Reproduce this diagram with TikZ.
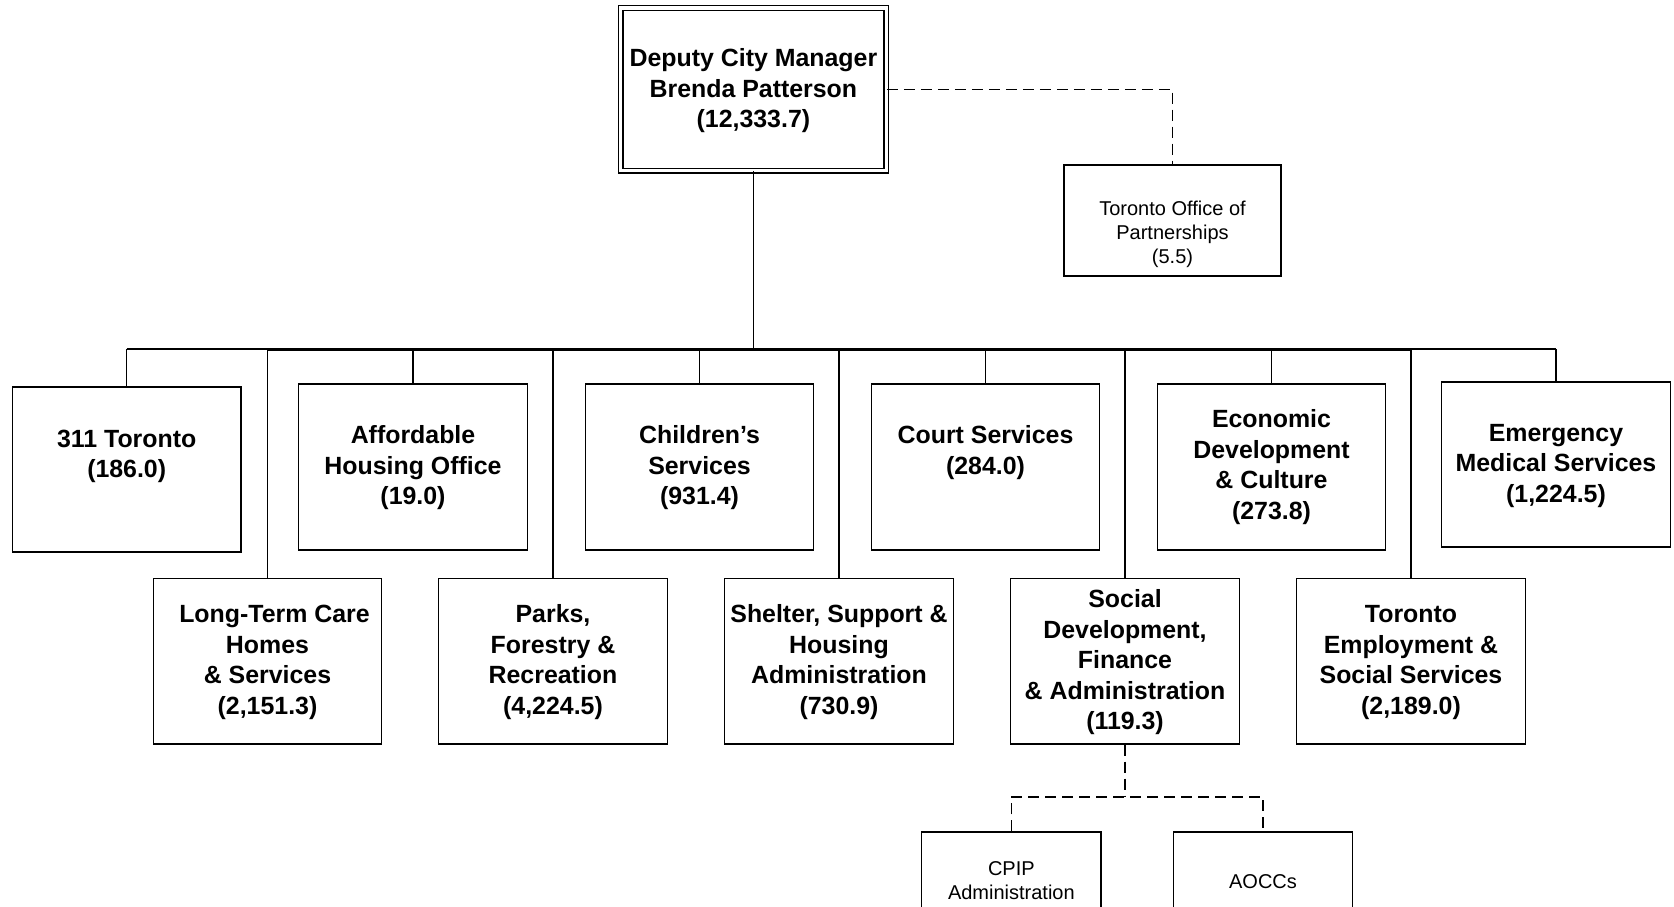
\documentclass[tikz,border=0pt]{standalone}
\usepackage{fontspec}
\setmainfont{Liberation Sans}
\newcommand\fls{\rule{0pt}{20pt}}
\newcommand\fla{\rule{0pt}{17pt}}
\begin{document}
\begin{tikzpicture}[x=1pt,y=-1pt,
  box/.style={draw, line width=1.3pt, inner sep=0pt, minimum width=228.5pt, minimum height=165.5pt},
  sbox/.style={draw, line width=1.3pt, inner sep=0pt},
  bl/.style={anchor=north, align=center, inner sep=0pt, font=\bfseries\fontsize{24.9pt}{30.5pt}\selectfont},
  rl/.style={anchor=north, align=center, inner sep=0pt, font=\fontsize{20pt}{24pt}\selectfont},
  conn/.style={line width=1.3pt},
  dsh/.style={line width=1.3pt, dash pattern=on 11pt off 6pt}]
\useasboundingbox (0,0) rectangle (1674,906);
\clip (0,0) rectangle (1674,906);
\fill[white] (0,0) rectangle (1674,906);

% top
\node[draw, double, double distance=3.4pt, line width=1.3pt, inner sep=0pt,
      minimum width=265.75pt, minimum height=162.5pt] (top) at (753.4,89.25) {};
\node[bl] (ttop) at (753.4,46.5) {\fls Deputy City Manager\\Brenda Patterson\\(12,333.7)};

\node[sbox, minimum width=217pt, minimum height=111pt] (tpo) at (1172.5,220.5) {};
\node[rl] (ttpo) at (1172.5,198.2) {\fla Toronto Office of\\Partnerships\\(5.5)};

% row 1
\node[box, minimum height=165pt] (b311) at (126.7,469.5) {};
\node[box, minimum height=166pt] (baff) at (413,467) {};
\node[box, minimum height=166pt] (bchi) at (699.5,467) {};
\node[box, minimum height=166pt] (bcou) at (985.5,467) {};
\node[box, minimum height=166pt] (beco) at (1271.5,467) {};
\node[box, minimum height=165pt] (bems) at (1556,464.5) {};

\node[bl] (t311) at (126.7,426.8) {\fls 311 Toronto\\(186.0)};
\node[bl] (taff) at (413,423.3) {\fls Affordable\\Housing Office\\(19.0)};
\node[bl] (tchi) at (699.5,423.3) {\fls Children’s\\Services\\(931.4)};
\node[bl] (tcou) at (985.5,423.3) {\fls Court Services\\(284.0)};
\node[bl] (teco) at (1271.5,407.3) {\fls Economic\\Development\\\& Culture\\(273.8)};
\node[bl] (tems) at (1556,421.2) {\fls Emergency\\Medical Services\\(1,224.5)};

% row 2
\node[box] (bltc) at (267.5,661.25) {};
\node[box] (bpar) at (553,661.25) {};
\node[box] (bshe) at (839,661.25) {};
\node[box] (bsoc) at (1125,661.25) {};
\node[box] (btes) at (1411,661.25) {};

\node[bl] (tltc) at (267.5,602.3) {\fls\hspace*{14pt}Long-Term Care\\Homes\\\& Services\\(2,151.3)};
\node[bl] (tpar) at (553,602.3) {\fls Parks,\\Forestry \&\\Recreation\\(4,224.5)};
\node[bl] (tshe) at (839,602.3) {\fls Shelter, Support \&\\Housing\\Administration\\(730.9)};
\node[bl] (tsoc) at (1125,587.3) {\fls Social\\Development,\\Finance\\\& Administration\\(119.3)};
\node[bl] (ttes) at (1411,602.3) {\fls Toronto\\Employment \&\\Social Services\\(2,189.0)};

% row 3
\node[sbox, minimum width=179.3pt, minimum height=100pt] (bcpip) at (1011.35,882) {};
\node[sbox, minimum width=179.4pt, minimum height=100pt] (baocc) at (1263,882) {};
\node[rl] (tcpip) at (1011.35,858.2) {\fla CPIP\\Administration};
\node[rl] (taocc) at (1263,871.2) {\fla AOCCs};

% connectors
\coordinate (busy) at (0,349);
\coordinate (busz) at (0,350.3);
\draw[conn] (top.south) -- (top.south |- busy);
\draw[conn] (b311.north |- busy) -- (bems.north |- busy);
\draw[conn] (bltc.north |- busz) -- (btes.north |- busz);
\foreach \n in {b311,baff,bchi,bcou,beco,bems,bltc,bpar,bshe,bsoc,btes}
  \draw[conn] (\n.north) -- (\n.north |- busy);
\draw[dsh] (top.east) -| (tpo.north);
\coordinate (dj) at (1125,797);
\draw[dsh] (bsoc.south) -- (bsoc.south |- dj);
\draw[dsh] (bcpip.north) |- (bsoc.south |- dj) -| (baocc.north);
\end{tikzpicture}
\end{document}
